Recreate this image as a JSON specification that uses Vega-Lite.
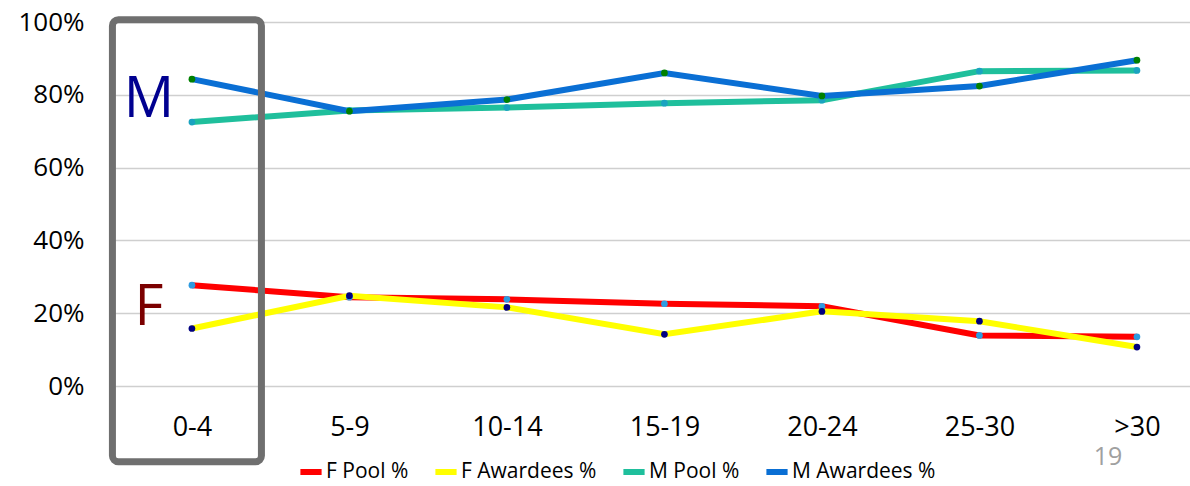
{
  "$schema": "https://vega.github.io/schema/vega-lite/v6.json",
  "width": 1077,
  "height": 364,
  "autosize": {"type": "none"},
  "padding": {"left": 113, "top": 22, "right": 0, "bottom": 100},
  "background": "white",
  "config": {
    "view": {"stroke": null},
    "font": "Open Sans"
  },
  "data": {
    "values": [
      {"age": "0-4", "series": "F Pool %", "value": 27.7},
      {"age": "5-9", "series": "F Pool %", "value": 24.4},
      {"age": "10-14", "series": "F Pool %", "value": 23.8},
      {"age": "15-19", "series": "F Pool %", "value": 22.6},
      {"age": "20-24", "series": "F Pool %", "value": 21.9},
      {"age": "25-30", "series": "F Pool %", "value": 13.9},
      {"age": ">30", "series": "F Pool %", "value": 13.5},
      {"age": "0-4", "series": "F Awardees %", "value": 15.8},
      {"age": "5-9", "series": "F Awardees %", "value": 24.8},
      {"age": "10-14", "series": "F Awardees %", "value": 21.6},
      {"age": "15-19", "series": "F Awardees %", "value": 14.2},
      {"age": "20-24", "series": "F Awardees %", "value": 20.5},
      {"age": "25-30", "series": "F Awardees %", "value": 17.8},
      {"age": ">30", "series": "F Awardees %", "value": 10.7},
      {"age": "0-4", "series": "M Pool %", "value": 72.5},
      {"age": "5-9", "series": "M Pool %", "value": 75.7},
      {"age": "10-14", "series": "M Pool %", "value": 76.5},
      {"age": "15-19", "series": "M Pool %", "value": 77.7},
      {"age": "20-24", "series": "M Pool %", "value": 78.5},
      {"age": "25-30", "series": "M Pool %", "value": 86.5},
      {"age": ">30", "series": "M Pool %", "value": 86.7},
      {"age": "0-4", "series": "M Awardees %", "value": 84.3},
      {"age": "5-9", "series": "M Awardees %", "value": 75.5},
      {"age": "10-14", "series": "M Awardees %", "value": 78.7},
      {"age": "15-19", "series": "M Awardees %", "value": 86.0},
      {"age": "20-24", "series": "M Awardees %", "value": 79.7},
      {"age": "25-30", "series": "M Awardees %", "value": 82.4},
      {"age": ">30", "series": "M Awardees %", "value": 89.5}
    ]
  },
  "encoding": {
    "x": {
      "field": "age",
      "type": "ordinal",
      "sort": ["0-4", "5-9", "10-14", "15-19", "20-24", "25-30", ">30"],
      "scale": {"type": "point", "padding": 0.419, "align": 0.598},
      "axis": {
        "title": null,
        "domain": false,
        "ticks": false,
        "labelAngle": 0,
        "labelFont": "Open Sans",
        "labelFontSize": 27,
        "labelColor": "#000000",
        "labelPadding": 28
      }
    },
    "y": {
      "field": "value",
      "type": "quantitative",
      "scale": {"domain": [0, 100], "nice": false, "zero": true},
      "axis": {
        "title": null,
        "values": [0, 20, 40, 60, 80, 100],
        "labelExpr": "datum.value + '%'",
        "domain": false,
        "ticks": false,
        "grid": true,
        "gridColor": "#cfcfcf",
        "gridWidth": 1.5,
        "labelFont": "Open Sans",
        "labelFontSize": 26,
        "labelColor": "#000000",
        "labelPadding": 29
      }
    }
  },
  "layer": [
    {
      "mark": {"type": "line", "strokeWidth": 6},
      "encoding": {
        "stroke": {
          "field": "series",
          "type": "nominal",
          "sort": ["F Pool %", "F Awardees %", "M Pool %", "M Awardees %"],
          "scale": {
            "domain": ["F Pool %", "F Awardees %", "M Pool %", "M Awardees %"],
            "range": ["#ff0000", "#ffff00", "#1fbf9c", "#0a6fd4"]
          },
          "legend": {
            "title": null,
            "orient": "none",
            "direction": "horizontal",
            "legendX": 184,
            "legendY": 436,
            "symbolType": "stroke",
            "symbolStrokeWidth": 6,
            "symbolSize": 450,
            "labelFont": "Open Sans",
            "labelFontSize": 21,
            "labelColor": "#000000",
            "labelOffset": 1,
            "columnPadding": 14,
            "labelLimit": 300
          }
        }
      }
    },
    {
      "mark": {"type": "point", "filled": true, "size": 45, "opacity": 1},
      "encoding": {
        "fill": {
          "field": "series",
          "type": "nominal",
          "scale": {
            "domain": ["F Pool %", "F Awardees %", "M Pool %", "M Awardees %"],
            "range": ["#2e9be0", "#000080", "#1aa3c0", "#008000"]
          },
          "legend": null
        }
      }
    },
    {
      "data": {"values": [{"age": "0-4", "top": 100.6, "bottom": -20.8}]},
      "mark": {
        "type": "bar",
        "width": 149,
        "fill": "transparent",
        "stroke": "#6f6f6f",
        "strokeWidth": 7,
        "cornerRadius": 6,
        "clip": false
      },
      "encoding": {
        "y": {"field": "top", "type": "quantitative"},
        "y2": {"field": "bottom"},
        "xOffset": {"value": -5}
      }
    },
    {
      "data": {"values": [
        {"age": "0-4", "label": "M", "value": 78.5, "kind": "M"},
        {"age": "0-4", "label": "F", "value": 21.3, "kind": "F"}
      ]},
      "mark": {"type": "text", "font": "Open Sans", "baseline": "middle", "align": "center", "dx": -43, "fontSize": 56},
      "encoding": {
        "text": {"field": "label"},
        "color": {
          "field": "kind",
          "type": "nominal",
          "scale": {"domain": ["M", "F"], "range": ["#000090", "#7b0000"]},
          "legend": null
        }
      }
    },
    {
      "data": {"values": [{"age": ">30", "label": "19", "value": -19.6}]},
      "mark": {"type": "text", "font": "Open Sans", "fontSize": 25, "color": "#a0a0a0", "baseline": "middle", "align": "center", "dx": -29},
      "encoding": {"text": {"field": "label"}}
    }
  ]
}
